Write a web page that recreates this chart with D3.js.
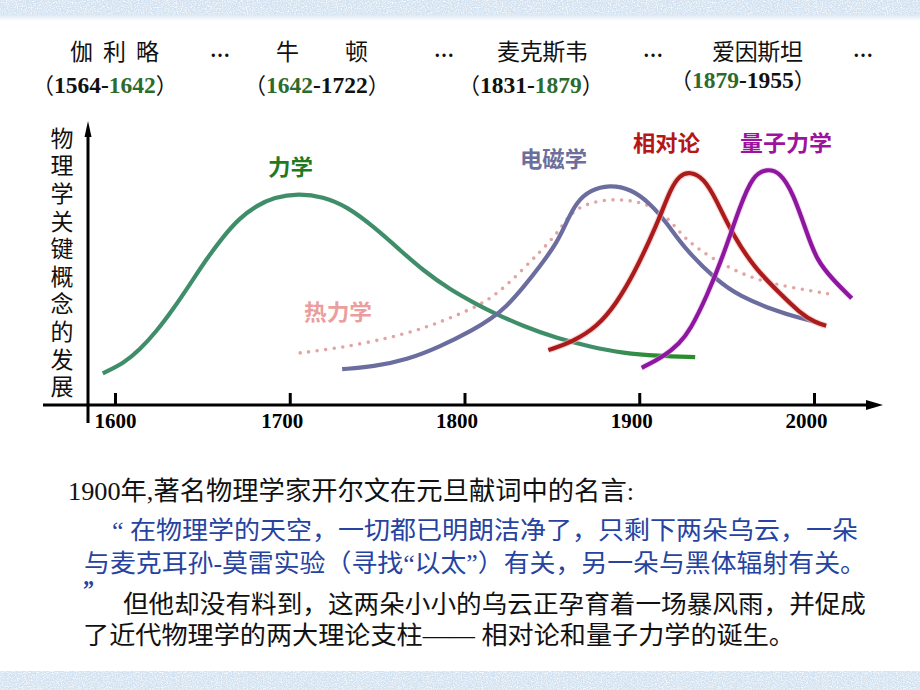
<!DOCTYPE html>
<html><head><meta charset="utf-8">
<script src="https://cdn.jsdelivr.net/npm/d3@7"></script>
<style>body{margin:0;background:#fff}svg{display:block}</style>
</head><body>
<svg id="c" width="920" height="690"></svg>
<script>
// ---------------- data ----------------
const tickYears  = [1600, 1700, 1800, 1900, 2000];
const tickLabels = ["1600", "1700", "1800", "1900", "2000"];

const scientists = ["伽利略", "牛顿", "麦克斯韦", "爱因斯坦"];
const lifespans  = [[1564, 1642], [1642, 1722], [1831, 1879], [1879, 1955]];

const yAxisTitle = "物理学关键概念的发展";

const seriesNames = ["力学", "热力学", "电磁学", "相对论", "量子力学"];

// [year, level] pairs
const mechanics = [[1593,11.3],[1605,14.9],[1614,19.6],[1624,26.5],[1633,34],[1643,43.2],[1652,51.8],[1662,60.2],
  [1671,66.6],[1681,71.2],[1691,74.2],[1705,75.6],[1719,74.4],[1733,70.8],[1748,63.7],[1763,55.4],[1776,48.2],
  [1792,41.1],[1807,36],[1815,33.4],[1834,28],[1853,23.8],[1872,20.8],[1891,18.5],[1910,17.5],[1932,17.1]];
const thermodynamics = [[1706,18.6],[1729,20.4],[1757,23.9],[1777,27.5],[1792,31.1],[1809,35.7],[1820,40.4],
  [1832,47.5],[1843,54.6],[1852,60.5],[1858,66.1],[1863,69.5],[1872,72.4],[1885,73.6],[1900,72.8],[1914,68.9],
  [1925,60],[1935,55.2],[1948,50],[1967,44.6],[1986,42.1],[2009,39.6]];
const electromagnetism = [[1730,12.8],[1748,13.7],[1767,16.1],[1786,20.8],[1805,26.8],[1815,30.7],[1824,35.1],
  [1834,42.3],[1843,49.4],[1853,58],[1858.5,65.5],[1864,72.4],[1872,76.8],[1883,78.6],[1895,77.2],[1906,72.2],
  [1916,64.9],[1925,56.5],[1944,44.6],[1958,38.7],[1977,33.9],[1992,31],[2002.5,29.4]];
const relativity = [[1848,19.6],[1862,22.6],[1876,28],[1887,36.3],[1897,47],[1906,58.9],[1912,67.5],[1918,77.2],
  [1923,82],[1929,83.4],[1937,81],[1944,73.4],[1954,60.1],[1967,48.2],[1980.5,39.9],[1992,32.8],
  [2001.5,29.2],[2007,28.3]];
const quantum = [[1901.4,13.3],[1914,17.3],[1923,22],[1929,26.6],[1938.6,38.7],[1948,53.2],[1957.6,71],
  [1965,82],[1973,84.4],[1980.5,83.2],[1988,75.8],[1996,61.3],[2001.5,51.8],[2011,44.6],[2021.6,38.1]];

const quoteIntro = "1900年,著名物理学家开尔文在元旦献词中的名言:";
const quoteLines = ["“ 在物理学的天空，一切都已明朗洁净了，只剩下两朵乌云，一朵",
                    "与麦克耳孙-莫雷实验（寻找“以太”）有关，另一朵与黑体辐射有关。",
                    "”"];
const commentLines = ["但他却没有料到，这两朵小小的乌云正孕育着一场暴风雨，并促成",
                      "了近代物理学的两大理论支柱—— 相对论和量子力学的诞生。"];

// ---------------- drawing ----------------
const svg = d3.select("#c");
const defs = svg.append("defs");
const SERIF = "'Liberation Serif','Noto Sans CJK SC',serif";
const CJK = "'Noto Sans CJK SC',sans-serif";

// speckled band texture
const f = defs.append("filter").attr("id","speckle").attr("x",0).attr("y",0).attr("width","100%").attr("height","100%");
f.append("feTurbulence").attr("type","fractalNoise").attr("baseFrequency",0.8).attr("numOctaves",2).attr("seed",5).attr("result","t");
f.append("feColorMatrix").attr("in","t").attr("type","matrix")
  .attr("values","0 0 0 0 1  0 0 0 0 1  0 0 0 0 1  2.6 0 0 0 -1.05");
const f2 = defs.append("filter").attr("id","speckle2").attr("x",0).attr("y",0).attr("width","100%").attr("height","100%");
f2.append("feTurbulence").attr("type","fractalNoise").attr("baseFrequency",0.9).attr("numOctaves",1).attr("seed",11).attr("result","t");
f2.append("feColorMatrix").attr("in","t").attr("type","matrix")
  .attr("values","0 0 0 0 0.62  0 0 0 0 0.74  0 0 0 0 0.88  0 2.4 0 0 -1.2");

function band(y0, h) {
  svg.append("rect").attr("x",0).attr("y",y0).attr("width",920).attr("height",h).attr("fill","#d3e2f1");
  svg.append("rect").attr("x",0).attr("y",y0).attr("width",920).attr("height",h).attr("filter","url(#speckle)").attr("opacity",0.9);
  svg.append("rect").attr("x",0).attr("y",y0).attr("width",920).attr("height",h).attr("filter","url(#speckle2)").attr("opacity",0.7);
}
band(0, 16);
band(671, 19);
const fade = defs.append("linearGradient").attr("id","fade").attr("x1",0).attr("y1",0).attr("x2",0).attr("y2",1);
fade.append("stop").attr("offset",0).attr("stop-color","#dde8f3");
fade.append("stop").attr("offset",1).attr("stop-color","#ffffff");
svg.append("rect").attr("x",0).attr("y",15).attr("width",920).attr("height",6).attr("fill","url(#fade)");

// ---- header ----
const nameX = [[70,159],[276,368],[497,588],[712,803]];
const dotsX = [220, 444, 653, 863];
const yearX = [32, 244, 458, 670];
const yearY = [93, 93, 93, 88];

svg.append("g").selectAll("text").data(scientists).join("text")
  .attr("x",(d,i)=>nameX[i][0]).attr("y",60)
  .attr("textLength",(d,i)=>nameX[i][1]-nameX[i][0]).attr("lengthAdjust","spacing")
  .attr("font-family",CJK).attr("font-size",23).attr("fill","#111")
  .text(d=>d);
svg.append("g").selectAll("text").data(dotsX).join("text")
  .attr("x",d=>d).attr("y",57).attr("text-anchor","middle")
  .attr("font-family","'Liberation Serif',serif").attr("font-weight","bold").attr("font-size",20).attr("fill","#111")
  .text("…");

const allYears = lifespans.flat();
const shared = v => allYears.filter(a=>a===v).length > 1;
const yt = svg.append("g").selectAll("text").data(lifespans).join("text")
  .attr("x",(d,i)=>yearX[i]).attr("y",(d,i)=>yearY[i])
  .attr("font-family",SERIF).attr("font-weight","bold").attr("font-size",23.5).attr("fill","#111");
yt.each(function(d){
  const t = d3.select(this);
  t.append("tspan").attr("font-weight","normal").attr("font-size",22).text("（");
  t.append("tspan").attr("fill", shared(d[0]) ? "#2d6b2d" : "#111").text(d[0]);
  t.append("tspan").text("-");
  t.append("tspan").attr("fill", shared(d[1]) ? "#2d6b2d" : "#111").text(d[1]);
  t.append("tspan").attr("font-weight","normal").attr("font-size",22).text("）");
});

// ---- chart ----
const x = d3.scaleLinear().domain([1600, 2000]).range([115, 814]);
const y = d3.scaleLinear().domain([0, 100]).range([405, 125]);

// axes
const xAxis = d3.axisBottom(x).tickValues(tickYears).tickFormat((d,i)=>tickLabels[i])
  .tickSizeInner(-12).tickSizeOuter(0).tickPadding(8);
const gx = svg.append("g").attr("transform",`translate(0,${y(0)})`).call(xAxis);
gx.select(".domain").remove();
gx.selectAll(".tick line").attr("stroke","#000").attr("stroke-width",3);
gx.selectAll(".tick text").attr("fill","#000").attr("font-family","'Liberation Serif',serif")
  .attr("font-weight","bold").attr("font-size",21).attr("dx",(d,i)=> i===0 ? 0 : -8);
svg.append("line").attr("x1",43).attr("x2",868).attr("y1",y(0)).attr("y2",y(0)).attr("stroke","#000").attr("stroke-width",3);
svg.append("path").attr("d",`M866,${y(0)-5}L883,${y(0)}L866,${y(0)+5}Z`).attr("fill","#000");
svg.append("line").attr("x1",88).attr("x2",88).attr("y1",423).attr("y2",134).attr("stroke","#000").attr("stroke-width",3);
svg.append("path").attr("d","M84.5,137L88,121L91.5,137Z").attr("fill","#000");

// y title (vertical, one text element)
svg.append("text")
  .attr("x",62).attr("y",126.5)
  .style("writing-mode","vertical-rl").style("text-orientation","upright")
  .attr("letter-spacing",4.6)
  .attr("font-family",CJK).attr("font-size",23).attr("fill","#111").text(yAxisTitle);

// curves
const line = d3.line().x(d=>x(d[0])).y(d=>y(d[1])).curve(d3.curveBasis);

const mg = defs.append("linearGradient").attr("id","mechGrad").attr("gradientUnits","userSpaceOnUse")
  .attr("x1",x(1880)).attr("x2",x(1912)).attr("y1",0).attr("y2",0);
mg.append("stop").attr("offset",0).attr("stop-color","#3f8e69");
mg.append("stop").attr("offset",1).attr("stop-color","#2a8c2a");

const curves = svg.append("g").attr("fill","none");
curves.append("path").attr("d",line(thermodynamics)).attr("stroke","#e3a4a4")
  .attr("stroke-width",3.6).attr("stroke-linecap","round").attr("stroke-dasharray","0 8.6");
curves.append("path").attr("d",line(mechanics)).attr("stroke","url(#mechGrad)").attr("stroke-width",4.2);
curves.append("path").attr("d",line(electromagnetism)).attr("stroke","#6b6d9f").attr("stroke-width",4.2);
curves.append("path").attr("d",line(relativity)).attr("stroke","#f2bcbc").attr("stroke-width",6.5).attr("opacity",0.6);
curves.append("path").attr("d",line(relativity)).attr("stroke","#ac1b1b").attr("stroke-width",4.2);
curves.append("path").attr("d",line(quantum)).attr("stroke","#e8b4e8").attr("stroke-width",6).attr("opacity",0.5);
curves.append("path").attr("d",line(quantum)).attr("stroke","#8e17a0").attr("stroke-width",4.2);

// curve labels
const labelPos = [[268,175,45,"#1f7a1f"],[304,320,68,"#ec9d9d"],[520,167,67,"#6c6e9c"],[633,151,67,"#b51616"],[740,151,92,"#9c139e"]];
svg.append("g").selectAll("text").data(seriesNames).join("text")
  .attr("x",(d,i)=>labelPos[i][0]).attr("y",(d,i)=>labelPos[i][1])
  .attr("textLength",(d,i)=>labelPos[i][2]).attr("lengthAdjust","spacingAndGlyphs")
  .attr("font-family",CJK).attr("font-weight","bold").attr("font-size",22)
  .attr("fill",(d,i)=>labelPos[i][3]).text(d=>d);

// ---- bottom text ----
svg.append("text").attr("x",68).attr("y",500).attr("textLength",566).attr("lengthAdjust","spacingAndGlyphs")
  .attr("font-family",SERIF).attr("font-size",26).attr("fill","#111").text(quoteIntro);
const qPos = [[112,538.5,746],[84,571.5,782],[83,598,11]];
svg.append("g").selectAll("text").data(quoteLines).join("text")
  .attr("x",(d,i)=>qPos[i][0]).attr("y",(d,i)=>qPos[i][1])
  .attr("textLength",(d,i)=>qPos[i][2]).attr("lengthAdjust","spacingAndGlyphs")
  .attr("font-family",(d,i)=> i===2 ? "'Liberation Serif',serif" : SERIF)
  .attr("font-weight",(d,i)=> i===2 ? "bold" : "normal")
  .attr("font-size",25).attr("fill","#2643a2").text(d=>d);
const cPos = [[123,612.5,743],[83,643.5,712]];
svg.append("g").selectAll("text").data(commentLines).join("text")
  .attr("x",(d,i)=>cPos[i][0]).attr("y",(d,i)=>cPos[i][1])
  .attr("textLength",(d,i)=>cPos[i][2]).attr("lengthAdjust","spacingAndGlyphs")
  .attr("font-family",SERIF).attr("font-size",25).attr("fill","#111").text(d=>d);
</script>
</body></html>
